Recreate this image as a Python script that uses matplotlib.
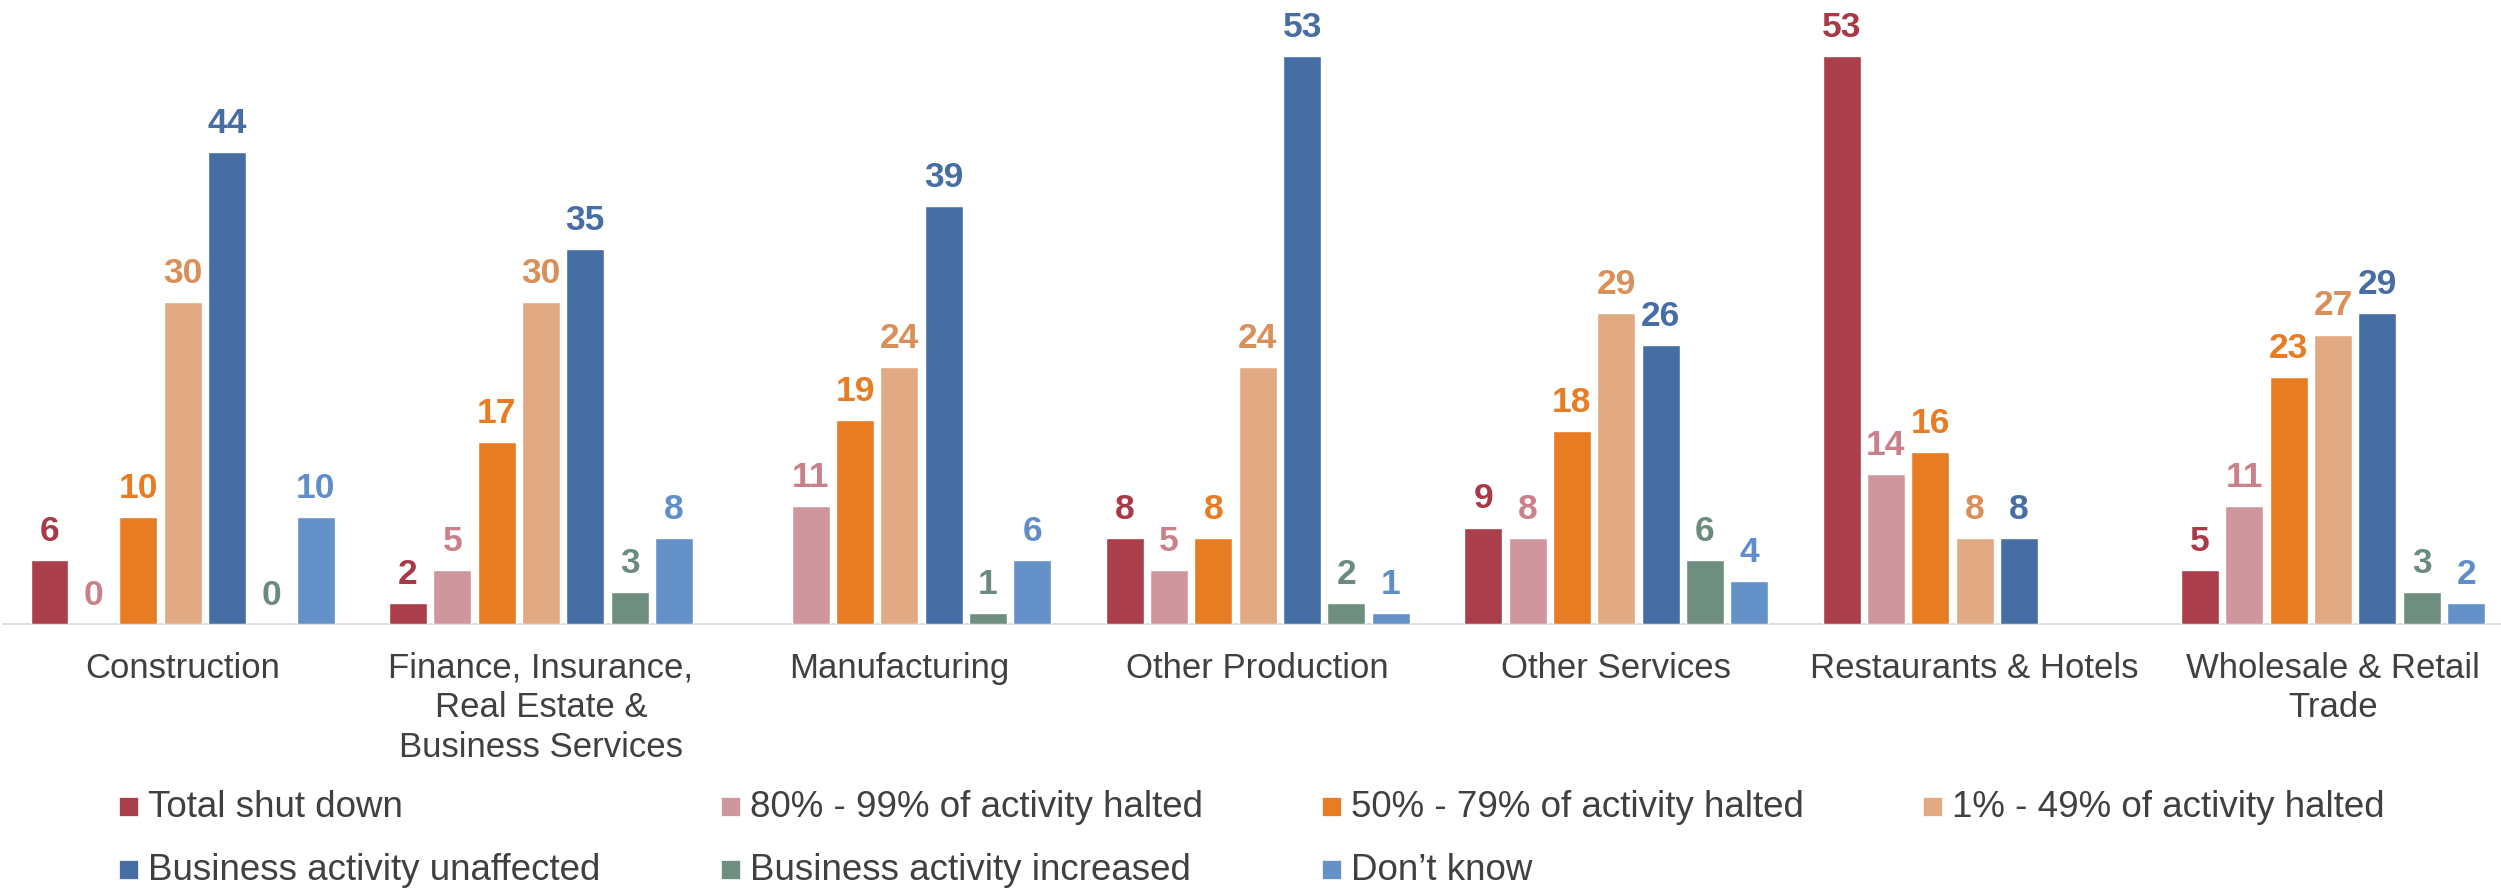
import numpy as np
import matplotlib
matplotlib.use('Agg')
import matplotlib.pyplot as plt
from matplotlib.patches import Rectangle

plt.rcParams['font.family'] = ['Liberation Sans', 'DejaVu Sans']

# data
categories = ['Construction', 'Finance, Insurance,\nReal Estate &\nBusiness Services',
              'Manufacturing', 'Other Production', 'Other Services',
              'Restaurants & Hotels', 'Wholesale & Retail\nTrade']
series = ['Total shut down', '80% - 99% of activity halted',
          '50% - 79% of activity halted', '1% - 49% of activity halted',
          'Business activity unaffected', 'Business activity increased', 'Don\u2019t know']
nan = np.nan
total_shut = [6, 2, nan, 8, 9, 53, 5]
halted_80_99 = [0, 5, 11, 5, 8, 14, 11]
halted_50_79 = [10, 17, 19, 8, 18, 16, 23]
halted_1_49 = [30, 30, 24, 24, 29, 8, 27]
unaffected = [44, 35, 39, 53, 26, 8, 29]
increased = [0, 3, 1, 2, 6, nan, 3]
dont_know = [10, 8, 6, 1, 4, nan, 2]
values = [total_shut, halted_80_99, halted_50_79, halted_1_49,
          unaffected, increased, dont_know]

# colours
bar_cols = ['#AA3E4A', '#D0969D', '#E87C23', '#E1AA82', '#466EA5', '#6E8E80', '#6491C8']
lab_cols = ['#A83A47', '#C98088', '#E87C23', '#D98F59', '#466EA5', '#6B8C7C', '#5F8ECB']
C_TXT = '#404040'

W, H = 2501, 888
fig = plt.figure(figsize=(W / 100, H / 100), dpi=100)
ax = fig.add_axes([3.3 / W, (H - 624) / H, 2509 / W, 624 / H])

x = np.arange(len(categories))
pitch = 0.1237
for i, (vals, name) in enumerate(zip(values, series)):
    xs = x + (i - 3) * pitch
    ax.bar(xs, vals, width=0.106, color=bar_cols[i], edgecolor='white',
           linewidth=1.0, label=name, zorder=3)
    for xi, v in zip(xs, vals):
        if np.isnan(v):
            continue
        ax.annotate(f'{v:g}', (xi, v), xytext=(0, 13.7), textcoords='offset points',
                    ha='center', va='baseline', fontsize=25.5, fontweight='bold',
                    color=lab_cols[i])

ax.set_xlim(-0.5, 6.5)
ax.set_ylim(0, 58.2)
ax.set_yticks([])
ax.set_xticks(x, categories, fontsize=25, color=C_TXT, linespacing=1.25)
ax.tick_params(axis='x', length=0, pad=20)
for s in ['top', 'right', 'left']:
    ax.spines[s].set_visible(False)
ax.spines['bottom'].set_color('#D9DEE6')
ax.spines['bottom'].set_linewidth(1.4)

# legend, 4 columns x 2 rows
col_x = [119, 721, 1322, 1923]
row_base = [817, 880]
for i, name in enumerate(series):
    r, c = divmod(i, 4)
    mx, base = col_x[c], row_base[r]
    fig.patches.append(Rectangle((mx / W, (H - base + 1) / H), 19 / W, 19 / H,
                                 transform=fig.transFigure, facecolor=bar_cols[i],
                                 edgecolor='white', linewidth=0.5))
    fig.text((mx + 29) / W, (H - base) / H, name, fontsize=26.5, color=C_TXT,
             ha='left', va='baseline')

fig.savefig('out.png', dpi=100, facecolor='white')
